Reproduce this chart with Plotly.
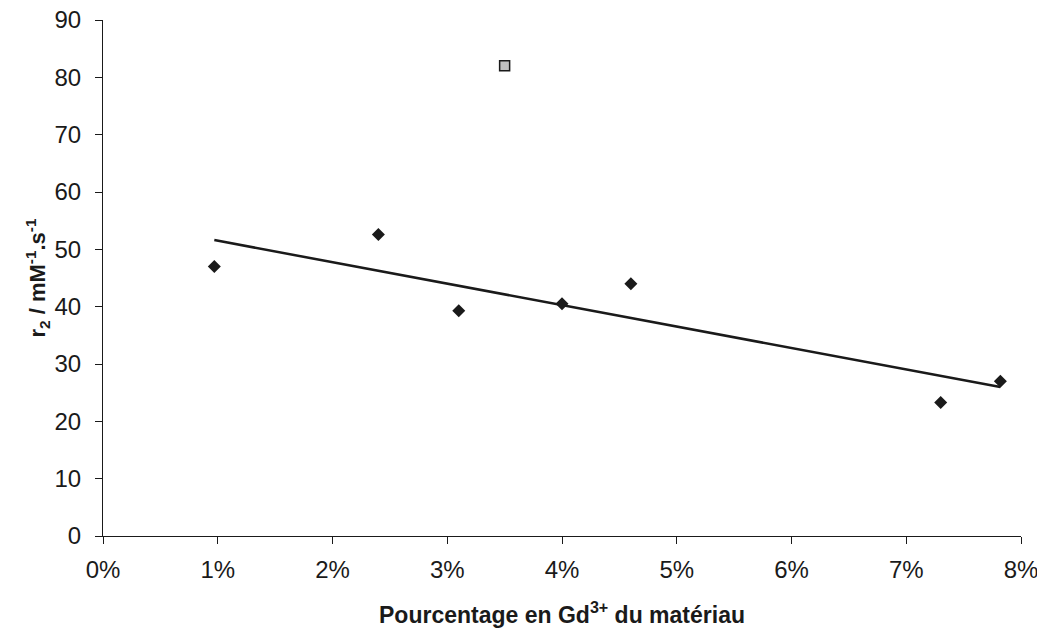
import numpy as np
import plotly.graph_objects as go

# Data (percent Gd3+, r2 in mM^-1 s^-1)
pct = [0.97, 2.4, 3.1, 4.0, 4.6, 7.3, 7.82]
r2 = [47.0, 52.6, 39.3, 40.5, 44.0, 23.3, 27.0]
outlier_pct = [3.5]
outlier_r2 = [82.0]
x_ticks = [0, 1, 2, 3, 4, 5, 6, 7, 8]
y_ticks = [0, 10, 20, 30, 40, 50, 60, 70, 80, 90]

slope, intercept = np.polyfit(pct, r2, 1)
fit_x = [min(pct), max(pct)]
fit_y = [slope * v + intercept for v in fit_x]

fig = go.Figure()
fig.add_trace(go.Scatter(x=fit_x, y=fit_y, mode="lines",
                         line=dict(color="#1a1a1a", width=2.5), showlegend=False))
fig.add_trace(go.Scatter(x=pct, y=r2, mode="markers",
                         marker=dict(symbol="diamond", size=10, color="#1a1a1a"),
                         showlegend=False))
fig.add_trace(go.Scatter(x=outlier_pct, y=outlier_r2, mode="markers",
                         marker=dict(symbol="square", size=10, color="#c0c0c0",
                                     line=dict(color="#1a1a1a", width=1.5)),
                         showlegend=False))

font = "Liberation Sans, Arial, sans-serif"
# page body has an 8px default margin, so the figure is sized to fit the window
fig.update_layout(
    width=1037, height=625,
    margin=dict(l=95, r=24, t=12, b=97),
    paper_bgcolor="white", plot_bgcolor="white",
    font=dict(family=font, color="#1a1a1a"),
    xaxis=dict(range=[0, 8], tickvals=x_ticks, ticktext=[f"{v}%" for v in x_ticks],
               automargin=False, ticklabeloverflow="allow",
               showgrid=False, zeroline=False, showline=True, linecolor="#1a1a1a",
               linewidth=1, ticks="outside", ticklen=7, tickcolor="#1a1a1a",
               ticklabelstandoff=5,
               tickfont=dict(size=24, family=font)),
    yaxis=dict(range=[0, 90], tickvals=y_ticks, automargin=False,
               ticklabeloverflow="allow",
               showgrid=False, zeroline=False, showline=True, linecolor="#1a1a1a",
               linewidth=1, ticks="outside", ticklen=7, tickcolor="#1a1a1a",
               ticklabelstandoff=9,
               tickfont=dict(size=24, family=font),
               title=dict(text="<b>r<sub>2</sub> / mM<sup>-1</sup>.s<sup>-1</sup></b>",
                          font=dict(size=22, family=font), standoff=2)),
    annotations=[dict(text="<b>Pourcentage en Gd<sup>3+</sup> du matériau</b>",
                      xref="paper", yref="paper", x=0.5, y=-0.149,
                      xanchor="center", yanchor="middle", showarrow=False,
                      font=dict(size=23, family=font, color="#1a1a1a"))],
)

fig.write_html("out.html")
